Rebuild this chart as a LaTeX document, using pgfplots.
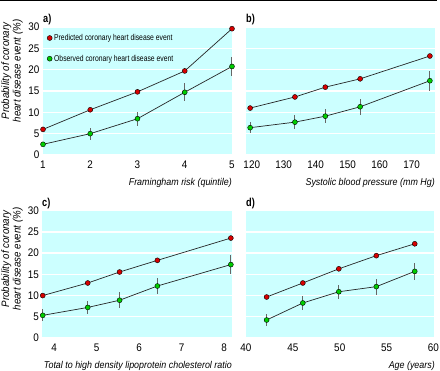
\documentclass[border=0pt]{standalone}
\usepackage{fontspec}
\setmainfont{Liberation Sans}[FakeStretch=0.9]
\newfontfamily\legfont{Liberation Sans}[FakeStretch=0.8]
\usepackage{pgfplots}
\pgfplotsset{compat=1.18}
\definecolor{bg}{RGB}{204,255,255}
\definecolor{mred}{RGB}{215,0,0}
\definecolor{mgreen}{RGB}{0,205,0}
\pgfplotsset{
 panel/.style={
  scale only axis, width=189pt, height=128pt,
  ymin=0, ymax=30, ytick={0,5,...,30},
  axis background/.style={fill=bg},
  axis line style={draw=none},
  major tick length=0pt,
  ymajorgrids, grid style={white, line width=1.3pt},
  tick label style={font=\fontsize{11}{12}\selectfont},
  /pgf/number format/assume math mode=true,
  xticklabel style={yshift=-2pt},
  clip=false,
 },
 pred/.style={black!85, line width=0.7pt, mark=*, mark size=2.5pt, mark options={fill=mred, draw=black, line width=0.4pt}},
 obs/.style={black!85, line width=0.7pt, mark=*, mark size=2.5pt, mark options={fill=mgreen, draw=black, line width=0.4pt},
   error bars/.cd, y dir=both, y explicit, error mark=none, error bar style={line width=1pt, black!60}},
}
\begin{document}
\begin{tikzpicture}
\useasboundingbox (0pt,0pt) rectangle (440pt,371pt);
\fill[black] (0pt,369.5pt) rectangle (437pt,371pt);
% a
\begin{axis}[panel, at={(43pt,216pt)}, anchor=south west,
  xmin=1, xmax=5, xtick={1,2,3,4,5},
  legend style={at={(rel axis cs:0,1)}, anchor=north west, xshift=3pt, yshift=-4pt, draw=none, fill=none,
    font=\legfont\fontsize{8.5}{10}\selectfont, row sep=9pt, inner sep=1pt, cells={anchor=west}},
  legend image code/.code={\draw[#1] plot coordinates {(3pt,0pt)};}]
\addlegendimage{only marks, mark=*, mark size=2.5pt, mark options={fill=mred, draw=black, line width=0.4pt}}
\addlegendentry{Predicted coronary heart disease event}
\addlegendimage{only marks, mark=*, mark size=2.5pt, mark options={fill=mgreen, draw=black, line width=0.4pt}}
\addlegendentry{Observed coronary heart disease event}
\addplot[forget plot, pred] coordinates {(1,6.0) (2,10.6) (3,14.8) (4,19.7) (5,29.6)};
\addplot[forget plot, obs] coordinates {(1,2.5) +- (0,0.5) (2,5.0) +- (0,1.4) (3,8.5) +- (0,1.6) (4,14.7) +- (0,2.1) (5,20.75) +- (0,2.3)};
\end{axis}
% b
\begin{axis}[panel, at={(246pt,216pt)}, anchor=south west,
  xmin=118.2, xmax=177.3, xtick={120,130,...,170}, yticklabels={}]
\addplot[pred] coordinates {(119.5,11.0) (133.5,13.6) (143,15.9) (153.9,17.85) (175.7,23.2)};
\addplot[obs] coordinates {(119.5,6.4) +- (0,1.3) (133.5,7.7) +- (0,1.6) (143,9.1) +- (0,1.7) (153.9,11.3) +- (0,1.9) (175.7,17.4) +- (0,2.3)};
\end{axis}
% c
\begin{axis}[panel, at={(42.3pt,33pt)}, anchor=south west, height=127.3pt, width=189.4pt,
  xmin=3.72, xmax=8.18, xtick={4,5,6,7,8}]
\addplot[pred] coordinates {(3.73,10.0) (4.79,12.96) (5.54,15.55) (6.43,18.3) (8.16,23.55)};
\addplot[obs] coordinates {(3.73,5.34) +- (0,1.4) (4.79,7.2) +- (0,1.6) (5.54,8.9) +- (0,1.9) (6.43,12.25) +- (0,2.0) (8.16,17.3) +- (0,2.3)};
\end{axis}
% d
\begin{axis}[panel, at={(246pt,33pt)}, anchor=south west, height=127.3pt, width=187.5pt,
  xmin=40, xmax=60, xtick={40,45,...,60}, yticklabels={}]
\addplot[pred] coordinates {(42.2,9.66) (46.06,12.96) (49.9,16.3) (53.9,19.4) (58.0,22.2)};
\addplot[obs] coordinates {(42.2,4.24) +- (0,1.3) (46.06,8.25) +- (0,1.7) (49.9,10.9) +- (0,1.7) (53.9,12.1) +- (0,1.9) (58.0,15.7) +- (0,2.0)};
\end{axis}
% panel letters
\node[anchor=base west, inner sep=0pt, font=\legfont\fontsize{11.5}{12}\selectfont\bfseries] at (43pt,348pt) {a)};
\node[anchor=base west, inner sep=0pt, font=\legfont\fontsize{11.5}{12}\selectfont\bfseries] at (246pt,348pt) {b)};
\node[anchor=base west, inner sep=0pt, font=\legfont\fontsize{11.5}{12}\selectfont\bfseries] at (42pt,164pt) {c)};
\node[anchor=base west, inner sep=0pt, font=\legfont\fontsize{11.5}{12}\selectfont\bfseries] at (246pt,164pt) {d)};
% x labels
\node[anchor=base east, inner sep=0pt, font=\fontsize{9.9}{12}\selectfont\itshape] at (232pt,185pt) {Framingham risk (quintile)};
\node[anchor=base east, inner sep=0pt, font=\fontsize{9.9}{12}\selectfont\itshape] at (435pt,185pt) {Systolic blood pressure (mm Hg)};
\node[anchor=base east, inner sep=0pt, font=\fontsize{9.9}{12}\selectfont\itshape] at (232pt,2pt) {Total to high density lipoprotein cholesterol ratio};
\node[anchor=base east, inner sep=0pt, font=\fontsize{9.9}{12}\selectfont\itshape] at (435pt,2pt) {Age (years)};
% y labels
\node[rotate=90, align=center, inner sep=0pt, font=\fontsize{10.8}{11.5}\selectfont\itshape] at (12pt,300pt) {Probability of coronary\\heart disease event (\%)};
\node[rotate=90, align=center, inner sep=0pt, font=\fontsize{10.8}{11.5}\selectfont\itshape] at (12pt,112pt) {Probability of coronary\\heart disease event (\%)};
\end{tikzpicture}
\end{document}
